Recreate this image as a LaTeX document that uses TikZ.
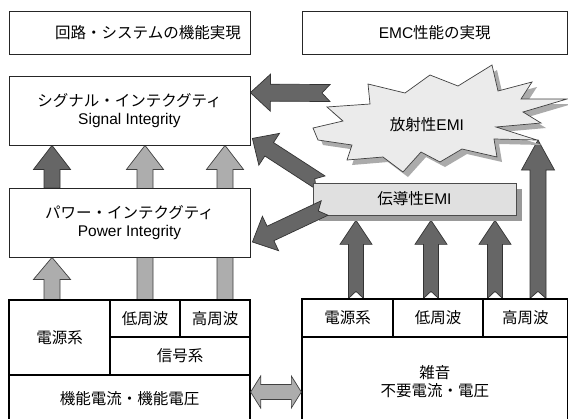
\documentclass[tikz,border=0pt]{standalone}
\usepackage{fontspec}
\setmainfont{Noto Sans CJK JP}
\newfontfamily\latfont{Liberation Sans}
\usetikzlibrary{calc}
\newcommand\jpf{\fontsize{15.5}{18}\selectfont}
\newcommand\EnTxt[1]{{\latfont\fontsize{15.5}{18}\selectfont #1}}
% block arrow: [style]{tail}{tip}{shaft half}{head half}{head length}{notch depth}
\newcommand\blockarrow[7][]{%
  \coordinate (ba-t) at #2;
  \coordinate (ba-h) at #3;
  \coordinate (ba-b) at ($(ba-h)!#6pt!(ba-t)$);
  \coordinate (ba-n) at ($(ba-t)!#7pt!(ba-h)$);
  \draw[#1] ($(ba-t)!#4pt!90:(ba-h)$) -- ($(ba-b)!#4pt!90:(ba-h)$) -- ($(ba-b)!#5pt!90:(ba-h)$)
    -- (ba-h) -- ($(ba-b)!#5pt!-90:(ba-h)$) -- ($(ba-b)!#4pt!-90:(ba-h)$)
    -- ($(ba-t)!#4pt!-90:(ba-h)$) -- (ba-n) -- cycle;
}
% double arrow: [style]{end a}{end b}{shaft half}{head half}{head length}
\newcommand\dblarrow[6][]{%
  \coordinate (da-a) at #2;
  \coordinate (da-b) at #3;
  \coordinate (da-p) at ($(da-a)!#6pt!(da-b)$);
  \coordinate (da-q) at ($(da-b)!#6pt!(da-a)$);
  \draw[#1] (da-a) -- ($(da-p)!#5pt!90:(da-b)$) -- ($(da-p)!#4pt!90:(da-b)$)
    -- ($(da-q)!#4pt!-90:(da-a)$) -- ($(da-q)!#5pt!-90:(da-a)$) -- (da-b)
    -- ($(da-q)!#5pt!90:(da-a)$) -- ($(da-q)!#4pt!90:(da-a)$)
    -- ($(da-p)!#4pt!-90:(da-b)$) -- ($(da-p)!#5pt!-90:(da-b)$) -- cycle;
}
\pgfdeclarelayer{back}
\pgfdeclarelayer{arrows}
\pgfsetlayers{back,arrows,main}
\tikzset{
  box/.style={draw=black!85, line width=0.8pt, fill=white, minimum width=241pt,
    inner sep=0pt, align=center, font=\jpf},
  cell/.style={draw=black, line width=1.3pt, fill=white, inner sep=0pt,
    align=center, font=\jpf},
  darkarr/.style={fill=black!60, draw=black!80, line width=0.7pt, line join=miter},
  lightarr/.style={fill=black!32, draw=black!75, line width=0.7pt, line join=miter},
  burstline/.style={draw=black!75, line width=0.7pt, fill=black!8, line join=miter},
}
\begin{document}
\begin{tikzpicture}[x=1pt, y=-1pt]
\useasboundingbox (0,0) rectangle (568,418);
\begin{pgfonlayer}{back}
  \fill[white] (0,0) rectangle (568,418);
\end{pgfonlayer}
\clip (0,0) rectangle (568,418);

% top boxes
\node[box, minimum height=43pt] (top1) at (129.5,33) {\hspace*{37pt}回路・システムの機能実現};
\node[box, minimum width=265.5pt, minimum height=43pt] (top2) at (434.75,33) {\EnTxt{EMC}性能の実現};

% integrity boxes
\node[box, minimum height=69pt] (SI) at (129.5,110.5) {シグナル・インテクグティ\\\EnTxt{Signal Integrity}};
\node[box, minimum height=69pt] (PI) at (129.5,222.5) {パワー・インテクグティ\\\EnTxt{Power Integrity}};

% left table
\node[cell, minimum width=101pt, minimum height=75pt] (L1) at (59.5,337.5) {電源系};
\node[cell, minimum width=70pt, minimum height=37pt] (L2) at (145,318.5) {低周波};
\node[cell, minimum width=70pt, minimum height=37pt] (L3) at (215,318.5) {高周波};
\node[cell, minimum width=140pt, minimum height=38pt] (L4) at (180,356) {信号系};
\node[cell, minimum width=241pt, minimum height=48pt] (L5) at (129.5,399) {機能電流・機能電圧};

% right table
\node[cell, minimum width=91pt, minimum height=38pt] (R1) at (347.5,318) {電源系};
\node[cell, minimum width=90pt, minimum height=38pt] (R2) at (438,318) {低周波};
\node[cell, minimum width=84.5pt, minimum height=38pt] (R3) at (525.25,318) {高周波};
\node[cell, minimum width=265.5pt, minimum height=90pt] (R4) at (434.75,382) {雑音\\不要電流・電圧};

% radiated EMI burst
\fill[black!33, shift={(5,5)}] (313,128) -- (343,121) -- (327,107) -- (370,104) -- (368,84) -- (405,93)
  -- (430,75) -- (458,86) -- (492,65) -- (498,91) -- (532,82) -- (521,99) -- (567,99) -- (523,112)
  -- (541,123) -- (496,127) -- (537,140) -- (494,139) -- (497,157) -- (462,149) -- (440,162)
  -- (421,152) -- (403,172) -- (383,157) -- (347,160) -- (352,145) -- (318,140) -- cycle;
\path[burstline] (313,128) -- (343,121) -- (327,107) -- (370,104) -- (368,84) -- (405,93)
  -- (430,75) -- (458,86) -- (492,65) -- (498,91) -- (532,82) -- (521,99) -- (567,99) -- (523,112)
  -- (541,123) -- (496,127) -- (537,140) -- (494,139) -- (497,157) -- (462,149) -- (440,162)
  -- (421,152) -- (403,172) -- (383,157) -- (347,160) -- (352,145) -- (318,140) -- cycle;
\node[font=\jpf] (rad) at (427,125) {放射性\EnTxt{EMI}};
\coordinate (burstpt) at (538,140);
\coordinate (radtail) at (330,93);

% conducted EMI box
\fill[black!40] (319,189) rectangle (522,221);
\node[draw=black!70, line width=0.7pt, fill=black!12, minimum width=203pt, minimum height=32pt,
  inner sep=0pt, font=\jpf] (CE) at (414.5,199) {伝導性\EnTxt{EMI}};

\begin{pgfonlayer}{arrows}
  % left column arrows
  \blockarrow[darkarr]{(52,0 |- PI.north)}{(52,0 |- SI.south)}{8}{18.5}{24}{0}
  \blockarrow[lightarr]{(145,0 |- L2.north)}{(145,0 |- SI.south)}{8}{18.5}{24}{0}
  \blockarrow[lightarr]{(225,0 |- L3.north)}{(225,0 |- SI.south)}{8}{18.5}{24}{0}
  \blockarrow[lightarr]{(52,0 |- L1.north)}{(52,0 |- PI.south)}{8}{18.5}{22}{0}
  % right column arrows
  \blockarrow[darkarr]{(356,0 |- R1.north)}{($(356,0 |- CE.south)+(0,5)$)}{7.5}{16}{24}{7}
  \blockarrow[darkarr]{(431,0 |- R2.north)}{($(431,0 |- CE.south)+(0,5)$)}{7.5}{16}{24}{7}
  \blockarrow[darkarr]{(495,0 |- R3.north)}{($(495,0 |- CE.south)+(0,5)$)}{7.5}{16}{24}{7}
  \blockarrow[darkarr]{(burstpt |- R3.north)}{(burstpt)}{8}{16.5}{30}{7}
  % arrows towards signal integrity
  \blockarrow[darkarr]{(radtail)}{($(SI.north east)+(0,17)$)}{8.5}{18.5}{20}{8}
  \blockarrow[darkarr]{($(CE.north west)+(8,0)$)}{($(SI.south east)+(2,-7)$)}{8}{19}{20}{7}
\end{pgfonlayer}

% arrow towards power integrity (over the conducted EMI box)
\blockarrow[darkarr]{($(CE.west)+(12,9)$)}{($(PI.east)+(2,19.5)$)}{8}{19}{20}{7}

% functional <-> noise
\dblarrow[lightarr]{(L5.east |- 0,392)}{(R4.west |- 0,392)}{7.5}{16}{10}
\end{tikzpicture}
\end{document}
